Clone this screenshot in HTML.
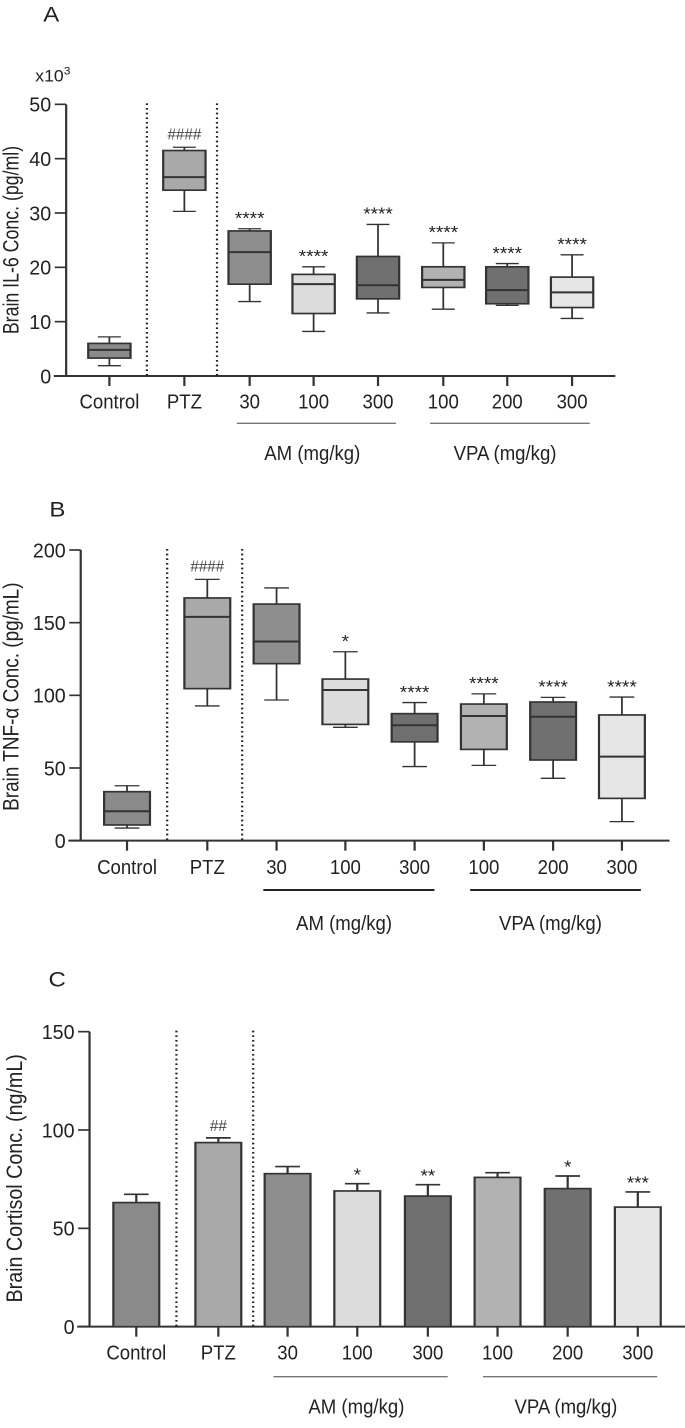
<!DOCTYPE html>
<html><head><meta charset="utf-8"><style>
html,body{margin:0;padding:0;background:#fff;}
svg{display:block;font-family:"Liberation Sans",sans-serif;}
</style></head><body>
<svg id="fig" width="685" height="1428" viewBox="0 0 1553 4284" preserveAspectRatio="none" xmlns="http://www.w3.org/2000/svg"></svg>
<script>
// ---- shared data ----
const categories = ["Control","PTZ","30","100","300","100","200","300"];
const groupLabels = ["AM (mg/kg)","VPA (mg/kg)"];
// Panel A: IL-6 (x10^3 pg/ml)
const aMax = [7.2,42.1,27.1,20.1,27.9,24.5,20.7,22.3];
const aQ3  = [6.0,41.5,26.7,18.7,22.0,20.1,20.1,18.2];
const aMed = [4.8,36.6,22.8,16.9,16.7,17.7,15.8,15.4];
const aQ1  = [3.3,34.2,16.9,11.5,14.2,16.3,13.3,12.6];
const aMin = [1.9,30.3,13.7,8.2,11.6,12.3,13.0,10.6];
const aSig = ["","####","****","****","****","****","****","****"];
const aTicks = [0,10,20,30,40,50];
// Panel B: TNF-alpha (pg/mL)
const bMax = [37.8,179.8,173.9,130,95,101,98.6,98.8];
const bQ3  = [33.7,167,162.8,111.2,87.4,94,95.4,86.5];
const bMed = [20.2,154,137,103.7,79.4,85.8,85.3,57.8];
const bQ1  = [10.8,104.6,121.8,80,68,62.8,55.5,29.1];
const bMin = [8.7,92.7,96.8,78,51,51.8,42.9,13.1];
const bSig = ["","####","","*","****","****","****","****"];
const bTicks = [0,50,100,150,200];
// Panel C: Cortisol (ng/mL)
const cMean = [63.1,93.6,77.8,69.0,66.4,75.9,70.2,60.8];
const cErr  = [4.2,2.4,3.6,3.7,5.8,2.4,6.4,7.7];
const cSig  = ["","##","","*","**","","*","***"];
const cTicks = [0,50,100,150];

const fills = ["#8a8a8a","#a9a9a9","#8e8e8e","#dcdcdc","#6f6f6f","#b2b2b2","#707070","#e6e6e6"];
const NS="http://www.w3.org/2000/svg";
const svg=document.getElementById('fig');
function mk(tag,attrs,parent){const e=document.createElementNS(NS,tag);for(const k in attrs)e.setAttribute(k,attrs[k]);(parent||svg).appendChild(e);return e;}
function txt(str,x,y,size,anchor,sx,parent){
  const g=mk('g',{transform:`translate(${x},${y}) scale(${sx},1)`},parent);
  const t=mk('text',{x:0,y:0,'font-size':size,'text-anchor':anchor,fill:'#222'},g);
  t.textContent=str;return t;}

const panels=[
 {id:'a',letter:'A',lx:98,ly:65,y0:1128,k:16.3,ax:150,aEnd:1395,ticks:aTicks,
  slotX:[248,418,566,711,857,1005,1150,1297],dots:[333,492],half:48,cap:26,
  lab:1225,ul:1270,ulSpans:[[537,898],[975,1337]],ulCol:'#777',ulW:4,gl:1380,gc:[708,1145],
  title:'Brain IL-6 Conc. (pg/ml)',tx:42,tc:720,tl:565,kind:'box',
  max:aMax,q3:aQ3,med:aMed,q1:aQ1,min:aMin,sig:aSig},
 {id:'b',letter:'B',lx:112,ly:1550,y0:2522,k:4.36,ax:183,aEnd:1518,ticks:bTicks,
  slotX:[288,470,627,783,940,1097,1254,1410],dots:[379,549],half:52,cap:28,
  lab:2622,ul:2670,ulSpans:[[597,985],[1066,1453]],ulCol:'#222',ulW:6,gl:2790,gc:[780,1248],
  title:'Brain TNF-\u03b1 Conc. (pg/mL)',tx:42,tc:2090,tl:685,kind:'box',
  max:bMax,q3:bQ3,med:bMed,q1:bQ1,min:bMin,sig:bSig},
 {id:'c',letter:'C',lx:110,ly:2960,y0:3980,k:5.9,ax:203,aEnd:1553,ticks:cTicks,
  slotX:[309,495,652,810,970,1128,1287,1446],dots:[400,574],half:52,cap:28,
  lab:4078,ul:4130,ulSpans:[[620,1015],[1095,1490]],ulCol:'#777',ulW:4,gl:4240,gc:[808,1283],
  title:'Brain Cortisol Conc.  (ng/mL)',tx:50,tc:3535,tl:745,kind:'bar',
  mean:cMean,err:cErr,sig:cSig}
];

panels.forEach(p=>{
  const g=mk('g',{});
  
  
  const Y=v=>p.y0-v*p.k;
  const top=Y(p.ticks[p.ticks.length-1]);
  const L=txt(p.letter,p.lx,p.ly,64,'start',0.85,g);
  
  
  if(p.id==='a'){
    const t=mk('text',{x:80,y:245,'font-size':50,fill:'#222'},g);
    
    
    t.innerHTML='x10<tspan dy="-22" font-size="34">3</tspan>';
    t.setAttribute('transform','translate(16,0) scale(0.8,1)');
  }
  const ya=mk('line',{x1:p.ax,y1:top,x2:p.ax,y2:p.y0,stroke:'#333','stroke-width':5},g);
  
  
  p.ticks.forEach(v=>{
    const yy=Y(v);
    const tk=mk('line',{x1:p.ax-26,y1:yy,x2:p.ax,y2:yy,stroke:'#333','stroke-width':5},g);
    
    
    const tl=txt(String(v),p.ax-34,yy+22,62,'end',0.72,g);
    
    
  });
  const xa=mk('line',{x1:p.ax-28,y1:p.y0,x2:p.aEnd,y2:p.y0,stroke:'#333','stroke-width':6},g);
  
  
  p.dots.forEach(dx=>{
    const d=mk('line',{x1:dx,y1:top-3,x2:dx,y2:p.y0,stroke:'#222','stroke-width':5,'stroke-dasharray':'5 9'},g);
    
    
  });
  const tt=mk('text',{x:0,y:0,'font-size':50,'text-anchor':'middle',fill:'#222',textLength:p.tl,lengthAdjust:'spacingAndGlyphs',transform:`translate(${p.tx},${p.tc}) rotate(-90)`},g);
  tt.textContent=p.title;
  
  
  categories.forEach((c,i)=>{
    const x=p.slotX[i];
    const tk=mk('line',{x1:x,y1:p.y0,x2:x,y2:p.y0+30,stroke:'#333','stroke-width':5},g);
    
    
    const cl=txt(c,x,p.lab,62,'middle',0.68,g);
    
    
    let annotTop;
    if(p.kind==='box'){
      const w1=mk('line',{x1:x,y1:Y(p.max[i]),x2:x,y2:Y(p.min[i]),stroke:'#333','stroke-width':4},g);
      
      
      [p.max[i],p.min[i]].forEach(v=>{
        const cp=mk('line',{x1:x-p.cap,y1:Y(v),x2:x+p.cap,y2:Y(v),stroke:'#333','stroke-width':4},g);
        
        
      });
      const b=mk('rect',{x:x-p.half,y:Y(p.q3[i]),width:2*p.half,height:Y(p.q1[i])-Y(p.q3[i]),fill:fills[i],stroke:'#333','stroke-width':5},g);
      
      
      const m=mk('line',{x1:x-p.half,y1:Y(p.med[i]),x2:x+p.half,y2:Y(p.med[i]),stroke:'#333','stroke-width':6},g);
      
      
      annotTop=Y(p.max[i])-40;
    } else {
      const e=mk('line',{x1:x,y1:Y(p.mean[i]),x2:x,y2:Y(p.mean[i]+p.err[i]),stroke:'#333','stroke-width':5},g);
      
      
      const ec=mk('line',{x1:x-p.cap,y1:Y(p.mean[i]+p.err[i]),x2:x+p.cap,y2:Y(p.mean[i]+p.err[i]),stroke:'#333','stroke-width':5},g);
      
      
      const b=mk('rect',{x:x-p.half,y:Y(p.mean[i]),width:2*p.half,height:p.y0-Y(p.mean[i]),fill:fills[i],stroke:'#333','stroke-width':5},g);
      
      
      annotTop=Y(p.mean[i]+p.err[i])-36;
    }
    if(p.sig[i]){
      const isHash=p.sig[i][0]==='#';
      const s=txt(p.sig[i],x,annotTop+(isHash?16:26),isHash?46:54,'middle',isHash?0.75:0.8,g);
      if(isHash)s.setAttribute('fill','#444');
      
      
    }
  });
  p.ulSpans.forEach((sp,j)=>{
    const u=mk('line',{x1:sp[0],y1:p.ul,x2:sp[1],y2:p.ul,stroke:p.ulCol,'stroke-width':p.ulW},g);
    
    
    const gl=txt(groupLabels[j],p.gc[j],p.gl,62,'middle',0.68,g);
    
    
  });
});
</script>
</body></html>
